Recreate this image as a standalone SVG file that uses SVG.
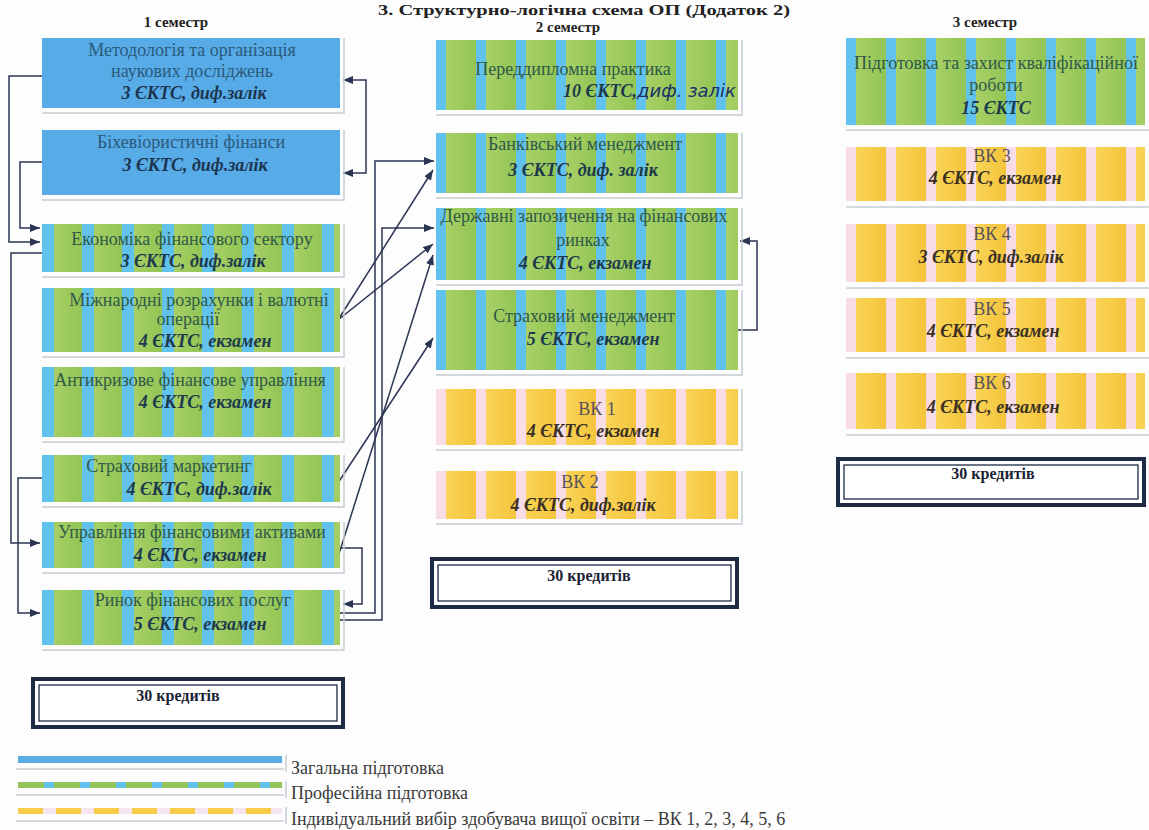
<svg xmlns="http://www.w3.org/2000/svg" width="1149" height="830" viewBox="0 0 1149 830">
<style>
.t{font-family:"Liberation Serif","DejaVu Serif",serif;font-size:18px;text-anchor:middle}
.ib{font-family:"Liberation Serif","DejaVu Serif",serif;font-style:italic;font-weight:bold;font-size:18px}
.st{text-anchor:start}
.en{text-anchor:end}
.hd{font-family:"Liberation Serif","DejaVu Serif",serif;font-weight:bold;font-size:15px;text-anchor:middle;fill:#222}
.cred{font-size:16px;fill:#1a2333}
.bt{fill:#2a5a7c}
.bi{fill:#1c3550}
.gt{fill:#2f5a48}
.gi{fill:#1d3a4c}
.yt{fill:#56525e}
.yi{fill:#3a3024}
.lt{fill:#3a3a3a}
.hw{font-family:"DejaVu Sans",sans-serif;font-style:italic;font-weight:normal;fill:#1b2f6a}
.sh{stroke:#c3ccd4;stroke-width:1.5;fill:none}
.cn{stroke:#2b3553;stroke-width:1.5;fill:none}
.cr{fill:#fff;stroke:#1e2b45}
</style>
<defs>
<linearGradient id="gg" x1="0" y1="0" x2="1" y2="0"><stop offset="0" stop-color="#b0d36b"/><stop offset="1" stop-color="#92c555"/></linearGradient>
<linearGradient id="yg" x1="0" y1="0" x2="1" y2="0"><stop offset="0" stop-color="#fbd95e"/><stop offset="1" stop-color="#f4c43c"/></linearGradient>
<pattern id="pg" patternUnits="userSpaceOnUse" x="42" y="0" width="40" height="10">
<rect width="40" height="10" fill="url(#gg)"/><rect width="12" height="10" fill="#62c2ee"/>
</pattern>
<pattern id="pg2" patternUnits="userSpaceOnUse" x="436" y="0" width="40" height="10">
<rect width="40" height="10" fill="url(#gg)"/><rect width="10" height="10" fill="#62c2ee"/>
</pattern>
<pattern id="pg3" patternUnits="userSpaceOnUse" x="846" y="0" width="40" height="10">
<rect width="40" height="10" fill="url(#gg)"/><rect width="10" height="10" fill="#62c2ee"/>
</pattern>
<pattern id="py" patternUnits="userSpaceOnUse" x="436" y="0" width="40" height="10">
<rect width="40" height="10" fill="url(#yg)"/><rect width="10" height="10" fill="#f8dce6"/>
</pattern>
<pattern id="py3" patternUnits="userSpaceOnUse" x="846" y="0" width="40" height="10">
<rect width="40" height="10" fill="url(#yg)"/><rect width="10" height="10" fill="#f8dce6"/>
</pattern>
<pattern id="lg" patternUnits="userSpaceOnUse" x="18" y="0" width="36" height="10">
<rect width="36" height="10" fill="#62c2ee"/><rect width="26" height="10" fill="#94c459"/>
</pattern>
<pattern id="ly" patternUnits="userSpaceOnUse" x="18" y="0" width="38" height="10">
<rect width="38" height="10" fill="#f3e6ee"/><rect width="25" height="10" fill="#f6cc4a"/>
</pattern>
<marker id="ar" markerUnits="userSpaceOnUse" markerWidth="10" markerHeight="8" refX="10" refY="4" orient="auto-start-reverse">
<path d="M0,0 L10,4 L0,8 z" fill="#2b3553"/>
</marker>
</defs>
<rect width="1149" height="830" fill="#fdfdfe"/>

<text x="584" y="15" class="hd" textLength="412" lengthAdjust="spacingAndGlyphs">3. Структурно-логічна схема ОП (Додаток 2)</text>
<text x="176" y="27" class="hd">1 семестр</text>
<text x="568" y="32" class="hd">2 семестр</text>
<text x="985" y="27" class="hd">3 семестр</text>

<g id="connectors">
<path class="cn" d="M42,76 H9 V242 H40" marker-end="url(#ar)"/>
<path class="cn" d="M42,162 H20 V228 H40" marker-end="url(#ar)"/>
<path class="cn" d="M42,253 H11 V543 H40" marker-end="url(#ar)"/>
<path class="cn" d="M42,478 H18 V613 H40" marker-end="url(#ar)"/>
<path class="cn" d="M343,80 H366 V173 H343" marker-start="url(#ar)" marker-end="url(#ar)"/>
<path class="cn" d="M340,548 H362 V604 H343" marker-end="url(#ar)"/>
<path class="cn" d="M340,613 H375 V161 H434" marker-end="url(#ar)"/>
<path class="cn" d="M340,620 H382 V228 H434" marker-end="url(#ar)"/>
<path class="cn" d="M338,320 L433,170" marker-end="url(#ar)"/>
<path class="cn" d="M338,320 L433,244" marker-end="url(#ar)"/>
<path class="cn" d="M338,483 L433,338" marker-end="url(#ar)"/>
<path class="cn" d="M338,557 L433,255" marker-end="url(#ar)"/>
<path class="cn" d="M738,330 H757 V241 H740" marker-end="url(#ar)"/>
</g>

<g id="n1">
<rect x="42" y="38" width="298" height="70" fill="#57abe6"/><path class="sh" d="M42,113 H344 V38"/>
<text x="192" y="56" class="t bt">Методологія та організація</text>
<text x="192" y="77" class="t bt">наукових досліджень</text>
<text x="194" y="99" class="t ib bi">3 ЄКТС, диф.залік</text>
</g>
<g id="n2">
<rect x="42" y="130" width="298" height="65" fill="#57abe6"/><path class="sh" d="M42,200 H344 V130"/>
<text x="191" y="148" class="t bt">Біхевіористичні фінанси</text>
<text x="195" y="171" class="t ib bi">3 ЄКТС, диф.залік</text>
</g>
<g id="n3">
<rect x="42" y="224" width="298" height="48" fill="url(#pg)"/><path class="sh" d="M42,277 H344 V224"/>
<text x="192" y="245" class="t gt">Економіка фінансового сектору</text>
<text x="193" y="267" class="t ib gi">3 ЄКТС, диф.залік</text>
</g>
<g id="n4">
<rect x="42" y="288" width="298" height="64" fill="url(#pg)"/><path class="sh" d="M42,357 H344 V288"/>
<text x="199" y="306" class="t gt">Міжнародні розрахунки і валютні</text>
<text x="188" y="325" class="t gt">операції</text>
<text x="205" y="347" class="t ib gi">4 ЄКТС, екзамен</text>
</g>
<g id="n5">
<rect x="42" y="367" width="298" height="70" fill="url(#pg)"/><path class="sh" d="M42,442 H344 V367"/>
<text x="190" y="386" class="t gt">Антикризове фінансове управління</text>
<text x="205" y="408" class="t ib gi">4 ЄКТС, екзамен</text>
</g>
<g id="n6">
<rect x="42" y="455" width="298" height="47" fill="url(#pg)"/><path class="sh" d="M42,507 H344 V455"/>
<text x="169" y="472" class="t gt">Страховий маркетинг</text>
<text x="199" y="495" class="t ib gi">4 ЄКТС, диф.залік</text>
</g>
<g id="n7">
<rect x="42" y="522" width="298" height="46" fill="url(#pg)"/><path class="sh" d="M42,573 H344 V522"/>
<text x="192" y="538" class="t gt">Управління фінансовими активами</text>
<text x="200" y="561" class="t ib gi">4 ЄКТС, екзамен</text>
</g>
<g id="n8">
<rect x="42" y="590" width="298" height="55" fill="url(#pg)"/><path class="sh" d="M42,650 H344 V590"/>
<text x="193" y="606" class="t gt">Ринок фінансових послуг</text>
<text x="200" y="630" class="t ib gi">5 ЄКТС, екзамен</text>
</g>
<g id="total1">
<rect x="33" y="679" width="310" height="48" class="cr" stroke-width="4"/>
<rect x="39" y="685" width="298" height="36" class="cr" stroke-width="1.3"/>
<text x="178" y="701" class="hd cred">30 кредитів</text>
</g>

<g id="m1">
<rect x="436" y="40" width="302" height="70" fill="url(#pg2)"/><path class="sh" d="M436,115 H742 V40"/>
<text x="573" y="75" class="t gt">Переддипломна практика</text>
<text x="736" y="97" class="t ib gi en">10 ЄКТС,<tspan class="hw">диф. залік</tspan></text>
</g>
<g id="m2">
<rect x="436" y="133" width="302" height="60" fill="url(#pg2)"/><path class="sh" d="M436,198 H742 V133"/>
<text x="585" y="150" class="t gt">Банківський менеджмент</text>
<text x="583" y="176" class="t ib gi">3 ЄКТС, диф. залік</text>
</g>
<g id="m3">
<rect x="436" y="208" width="302" height="72" fill="url(#pg2)"/><path class="sh" d="M436,285 H742 V208"/>
<text x="584" y="222" class="t gt">Державні запозичення на фінансових</text>
<text x="583" y="246" class="t gt">ринках</text>
<text x="585" y="269" class="t ib gi">4 ЄКТС, екзамен</text>
</g>
<g id="m4">
<rect x="436" y="290" width="302" height="80" fill="url(#pg2)"/><path class="sh" d="M436,375 H742 V290"/>
<text x="584" y="322" class="t gt">Страховий менеджмент</text>
<text x="593" y="345" class="t ib gi">5 ЄКТС, екзамен</text>
</g>
<g id="m5">
<rect x="436" y="389" width="302" height="56" fill="url(#py)"/><path class="sh" d="M436,450 H742 V389"/>
<text x="597" y="415" class="t yt">ВК 1</text>
<text x="593" y="437" class="t ib yi">4 ЄКТС, екзамен</text>
</g>
<g id="m6">
<rect x="436" y="471" width="302" height="48" fill="url(#py)"/><path class="sh" d="M436,524 H742 V471"/>
<text x="580" y="488" class="t yt">ВК 2</text>
<text x="583" y="511" class="t ib yi">4 ЄКТС, диф.залік</text>
</g>
<g id="total2">
<rect x="432" y="559" width="305" height="48" class="cr" stroke-width="4"/>
<rect x="438" y="565" width="293" height="36" class="cr" stroke-width="1.3"/>
<text x="589" y="581" class="hd cred">30 кредитів</text>
</g>

<g id="k1">
<rect x="846" y="38" width="299" height="87" fill="url(#pg3)"/><path class="sh" d="M846,130 H1149"/>
<text x="996" y="69" class="t gt">Підготовка та захист кваліфікаційної</text>
<text x="996" y="91" class="t gt">роботи</text>
<text x="996" y="114" class="t ib gi">15 ЄКТС</text>
</g>
<g id="k2">
<rect x="846" y="147" width="299" height="54" fill="url(#py3)"/><path class="sh" d="M846,207 H1149"/>
<text x="992" y="162" class="t yt">ВК 3</text>
<text x="995" y="184" class="t ib yi">4 ЄКТС, екзамен</text>
</g>
<g id="k3">
<rect x="846" y="224" width="299" height="58" fill="url(#py3)"/><path class="sh" d="M846,288 H1149"/>
<text x="992" y="240" class="t yt">ВК 4</text>
<text x="991" y="263" class="t ib yi">3 ЄКТС, диф.залік</text>
</g>
<g id="k4">
<rect x="846" y="298" width="299" height="54" fill="url(#py3)"/><path class="sh" d="M846,358 H1149"/>
<text x="992" y="315" class="t yt">ВК 5</text>
<text x="993" y="337" class="t ib yi">4 ЄКТС, екзамен</text>
</g>
<g id="k5">
<rect x="846" y="373" width="299" height="56" fill="url(#py3)"/><path class="sh" d="M846,435 H1149"/>
<text x="992" y="389" class="t yt">ВК 6</text>
<text x="993" y="413" class="t ib yi">4 ЄКТС, екзамен</text>
</g>
<g id="total3">
<rect x="838" y="459" width="306" height="46" class="cr" stroke-width="4"/>
<rect x="844" y="465" width="294" height="34" class="cr" stroke-width="1.3"/>
<text x="993" y="479" class="hd cred">30 кредитів</text>
</g>

<g id="legend">
<rect x="18" y="756" width="264" height="7" fill="#5aaee6"/>
<path class="sh" d="M16,769 H284 M286,755 V772"/>
<text x="291" y="774" class="t st lt">Загальна підготовка</text>
<rect x="18" y="782" width="264" height="6" fill="url(#lg)"/>
<path class="sh" d="M16,795 H284 M286,781 V798"/>
<text x="291" y="799" class="t st lt">Професійна підготовка</text>
<rect x="18" y="808" width="264" height="6" fill="url(#ly)"/>
<path class="sh" d="M16,821 H284 M286,807 V824"/>
<text x="291" y="825" class="t st lt">Індивідуальний вибір здобувача вищої освіти – ВК 1, 2, 3, 4, 5, 6</text>
</g>
</svg>
